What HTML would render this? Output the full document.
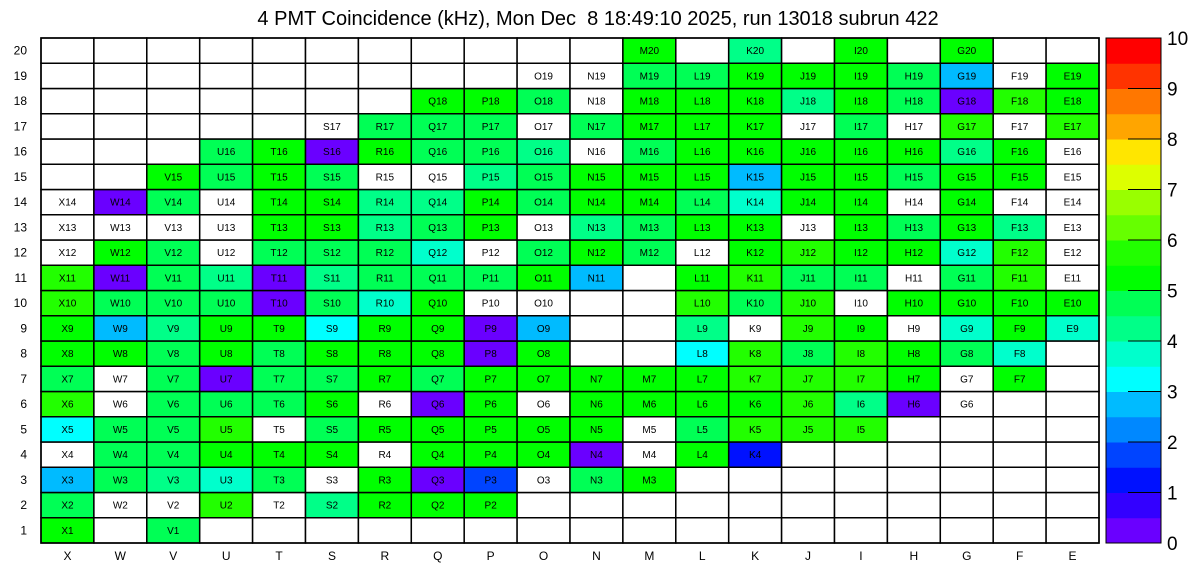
<!DOCTYPE html>
<html><head><meta charset="utf-8"><style>
html,body{margin:0;padding:0;background:#fff;}
svg{display:block;font-family:"Liberation Sans",Arial,sans-serif;}
</style></head><body>
<svg id="chart" width="1196" height="572" viewBox="0 0 1196 572" xmlns="http://www.w3.org/2000/svg">
<text x="598" y="25" font-size="20" text-anchor="middle" style="white-space:pre">4 PMT Coincidence (kHz), Mon Dec &#160;8 18:49:10 2025, run 13018 subrun 422</text>
<g id="cells"></g><g id="axes"></g><g id="cbar"></g>
</svg>
<script>
const columns = ["X","W","V","U","T","S","R","Q","P","O","N","M","L","K","J","I","H","G","F","E"];
const rowsLabels = [1,2,3,4,5,6,7,8,9,10,11,12,13,14,15,16,17,18,19,20];
const cbTicks = [0,1,2,3,4,5,6,7,8,9,10];
// values[r] = row (rowsLabels[r]); null = no channel; 0 = channel with zero rate
const N=null;
const values = [
/*1*/ [5.2,N,4.7,N,N,N,N,N,N,N,N,N,N,N,N,N,N,N,N,N],
/*2*/ [4.7,0,0,5.7,0,4.2,5.2,5.2,5.2,N,N,N,N,N,N,N,N,N,N,N],
/*3*/ [2.7,4.7,4.2,3.7,4.7,0,5.2,0.2,1.7,0,4.7,5.2,N,N,N,N,N,N,N,N],
/*4*/ [0,4.7,4.7,5.2,5.2,5.2,0,5.2,5.2,5.2,0.2,0,5.2,1.2,N,N,N,N,N,N],
/*5*/ [3.2,4.7,4.7,5.7,0,4.7,5.2,5.2,5.2,5.2,5.2,0,4.7,5.7,5.7,5.7,N,N,N,N],
/*6*/ [5.7,0,4.7,4.7,4.7,5.2,0,0.2,5.2,0,5.2,5.2,5.2,5.2,5.7,4.2,0.2,0,N,N],
/*7*/ [4.7,0,4.7,0.2,4.7,4.7,5.2,4.7,5.2,5.2,5.2,5.2,5.2,5.7,5.7,5.7,5.2,0,5.2,N],
/*8*/ [5.2,5.2,4.7,5.2,4.7,5.2,5.2,5.2,0.2,5.2,N,N,3.2,5.7,4.7,5.7,5.2,4.7,3.7,N],
/*9*/ [5.2,2.7,4.2,5.2,5.2,3.2,5.2,5.2,0.2,2.7,N,N,4.2,0,5.7,5.2,0,3.7,5.2,3.7],
/*10*/[5.7,4.7,4.7,4.7,0.2,4.7,3.7,5.2,0,0,N,N,5.7,4.7,5.7,0,5.2,5.2,5.2,5.2],
/*11*/[5.7,0.2,4.7,4.2,0.2,4.2,4.7,4.7,4.7,5.2,2.7,N,5.2,5.7,4.7,4.7,0,4.7,5.7,0],
/*12*/[0,5.2,4.7,0,4.7,4.7,4.7,3.7,0,4.7,5.2,4.7,0,5.2,5.7,5.2,5.2,3.7,5.7,0],
/*13*/[0,0,0,0,5.2,5.2,4.2,4.7,5.2,0,4.2,4.7,5.2,5.2,0,5.2,4.7,5.2,4.2,0],
/*14*/[0,0.2,4.7,0,5.2,5.2,4.2,4.2,5.2,4.7,5.2,5.2,4.7,3.7,5.2,5.2,0,5.2,0,0],
/*15*/[N,N,5.2,4.7,5.2,4.7,0,0,4.2,4.7,5.2,5.2,5.2,2.7,5.2,5.2,4.7,5.2,5.2,0],
/*16*/[N,N,N,4.7,5.2,0.2,5.2,4.7,4.7,4.2,0,4.7,5.2,5.2,5.2,5.2,5.2,4.2,5.2,0],
/*17*/[N,N,N,N,N,0,4.7,4.7,4.7,0,4.7,5.2,5.2,5.2,0,4.7,0,5.7,0,5.7],
/*18*/[N,N,N,N,N,N,N,5.2,5.2,4.7,0,5.2,5.2,5.2,4.2,5.2,4.7,0.2,5.7,5.2],
/*19*/[N,N,N,N,N,N,N,N,N,0,0,4.7,4.7,5.2,5.2,5.2,4.7,2.7,0,5.2],
/*20*/[N,N,N,N,N,N,N,N,N,N,N,5.2,N,4.2,N,5.2,N,5.2,N,N]
];
const palette=["#6a00ff","#3300ff","#0011ff","#0044ff","#0088ff","#00bbff","#00ffff","#00ffcc","#00ff88","#00ff55","#00ff00","#22ff00","#66ff00","#99ff00","#ddff00","#ffe600","#ffa500","#ff7700","#ff3300","#ff0000"];
const NS="http://www.w3.org/2000/svg";
const X0=41,X1=1099,Y0=38,Y1=543,ZMIN=0,ZMAX=10;
const cw=(X1-X0)/columns.length, rh=(Y1-Y0)/rowsLabels.length;
const xPos=i=>X0+i*cw;
const yPos=r=>Y1-(r+1)*rh;
const color=v=>{let k=Math.floor((v-ZMIN)/(ZMAX-ZMIN)*palette.length);k=Math.max(0,Math.min(palette.length-1,k));return palette[k];};
const cells=document.getElementById('cells');
function mk(t,a){const e=document.createElementNS(NS,t);for(const k in a)e.setAttribute(k,a[k]);return e;}
for(let r=0;r<rowsLabels.length;r++){
  for(let c=0;c<columns.length;c++){
    const v=values[r][c];
    const rect=mk('rect',{x:xPos(c),y:yPos(r),width:cw,height:rh,fill:(v!==null&&v>0)?color(v):'#fff',stroke:'#000','stroke-width':1.5});
    
    
    cells.appendChild(rect);
    if(v!==null){
      const t=mk('text',{x:xPos(c)+cw/2,y:yPos(r)+rh/2+3.5,'font-size':10,'text-anchor':'middle',fill:'#000'});
      t.textContent=columns[c]+rowsLabels[r];
      
      
      cells.appendChild(t);
    }
  }
}
const axes=document.getElementById('axes');
columns.forEach((l,i)=>{const t=mk('text',{x:xPos(i)+cw/2,y:560,'font-size':12,'text-anchor':'middle'});t.textContent=l;


axes.appendChild(t);});
rowsLabels.forEach((l,r)=>{const t=mk('text',{x:27,y:yPos(r)+rh/2+4,'font-size':12,'text-anchor':'end'});t.textContent=l;


axes.appendChild(t);});
const frame=mk('rect',{x:X0,y:Y0,width:X1-X0,height:Y1-Y0,fill:'none',stroke:'#000','stroke-width':1.5});


axes.appendChild(frame);
const cb=document.getElementById('cbar');
const CX0=1106,CX1=1161;
const cbY=v=>Y1-(v-ZMIN)/(ZMAX-ZMIN)*(Y1-Y0);
palette.forEach((col,k)=>{const v0=ZMIN+k*(ZMAX-ZMIN)/palette.length,v1=ZMIN+(k+1)*(ZMAX-ZMIN)/palette.length;
const r=mk('rect',{x:CX0,y:cbY(v1),width:CX1-CX0,height:cbY(v0)-cbY(v1)+0.5,fill:col});


cb.appendChild(r);});
const cbf=mk('rect',{x:CX0,y:Y0,width:CX1-CX0,height:Y1-Y0,fill:'none',stroke:'#000','stroke-width':1});


cb.appendChild(cbf);
cbTicks.forEach(v=>{const y=cbY(v);
const l=mk('line',{x1:CX1-33,x2:CX1,y1:y,y2:y,stroke:'#000','stroke-width':1});


cb.appendChild(l);
const t=mk('text',{x:1167,y:y+7,'font-size':19});t.textContent=v;


cb.appendChild(t);});
</script>
</body></html>
